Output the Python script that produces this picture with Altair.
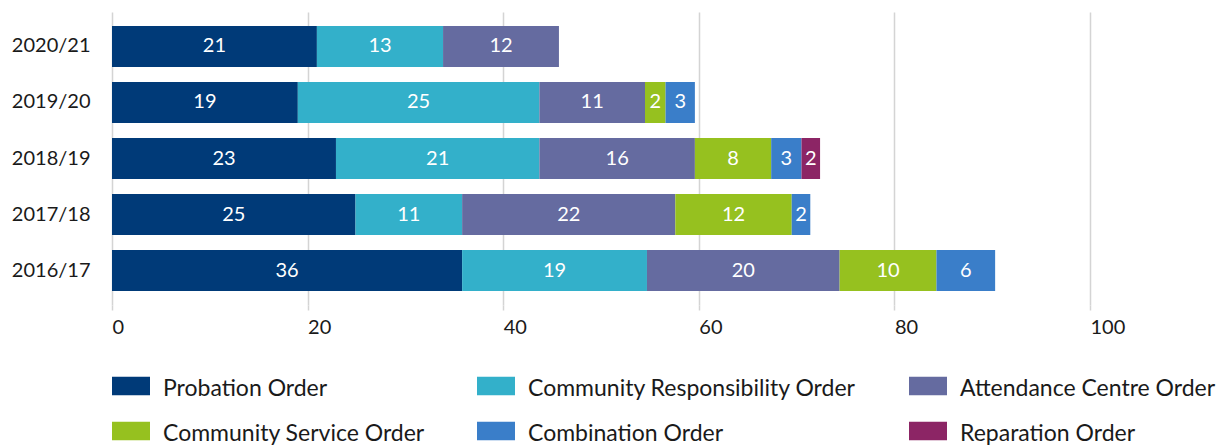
import altair as alt
import pandas as pd

years = ["2020/21", "2019/20", "2018/19", "2017/18", "2016/17"]
categories = [
    "Probation Order",
    "Community Responsibility Order",
    "Attendance Centre Order",
    "Community Service Order",
    "Combination Order",
    "Reparation Order",
]
colors = ["#003a78", "#33b0ca", "#656ba0", "#96c11f", "#3a7ec9", "#8c2565"]

probation = [20.95, 19.0, 22.9, 24.9, 35.8]
community_resp = [12.9, 24.7, 20.8, 10.9, 18.9]
attendance = [11.85, 10.8, 15.9, 21.8, 19.7]
community_service = [None, 2.1, 7.8, 11.9, 9.9]
combination = [None, 3.0, 3.1, 1.9, 6.0]
reparation = [None, None, 1.9, None, None]

series = [probation, community_resp, attendance, community_service, combination, reparation]

rows = []
for ci, (cat, vals) in enumerate(zip(categories, series)):
    for yr, v in zip(years, vals):
        if v is not None:
            rows.append({"year": yr, "category": cat, "value": v, "order": ci})
df = pd.DataFrame(rows)

# legend is filled column by column: order entries so rows read like the reference
legend_order = [0, 3, 1, 4, 2, 5]
leg_domain = [categories[i] for i in legend_order]
leg_range = [colors[i] for i in legend_order]

FONT = "Lato"

base = alt.Chart(df).transform_stack(
    stack="value", groupby=["year"], as_=["x0", "x1"],
    sort=[alt.SortField("order", order="ascending")]
).transform_calculate(mid="(datum.x0 + datum.x1) / 2")

yenc = alt.Y("year:N", sort=years, title=None,
             scale=alt.Scale(paddingInner=0.268, paddingOuter=0.25),
             axis=alt.Axis(domain=False, ticks=False, labelFontSize=20, labelFont=FONT,
                           labelColor="#1a1a1a", labelPadding=22))

bars = base.mark_bar().encode(
    x=alt.X("x0:Q", title=None, scale=alt.Scale(domain=[0, 100], nice=False),
            axis=alt.Axis(values=[0, 20, 40, 60, 80, 100], domain=False, grid=True,
                          gridColor="#d4d4d4", gridWidth=1.5, tickColor="#d4d4d4",
                          tickWidth=1.5, tickSize=5, labelAlign="left", labelPadding=7,
                          labelFontSize=20, labelFont=FONT, labelColor="#1a1a1a")),
    x2="x1:Q",
    y=yenc,
    color=alt.Color("category:N",
                    scale=alt.Scale(domain=leg_domain, range=leg_range),
                    legend=alt.Legend(title=None, orient="none", legendX=0, legendY=358,
                                      columns=3, columnPadding=52, rowPadding=14,
                                      symbolType="M-1,-0.64H1V0.33H-1Z", symbolSize=1444,
                                      symbolStrokeWidth=0, labelOffset=13, labelLimit=500,
                                      labelFontSize=23, labelFont=FONT, labelColor="#1a1a1a")),
)

texts = base.mark_text(color="white", fontSize=20, font=FONT, baseline="middle").encode(
    x="mid:Q",
    y=alt.Y("year:N", sort=years),
    text=alt.Text("value:Q", format=".0f"),
)

chart = alt.layer(bars, texts).properties(
    width=978, height=293,
    autosize=alt.AutoSizeParams(type="none"),
    padding={"left": 104, "top": 4, "right": 130, "bottom": 160},
).configure_view(stroke=None)

chart.save("out.html", embed_options={"renderer": "svg", "actions": False})
